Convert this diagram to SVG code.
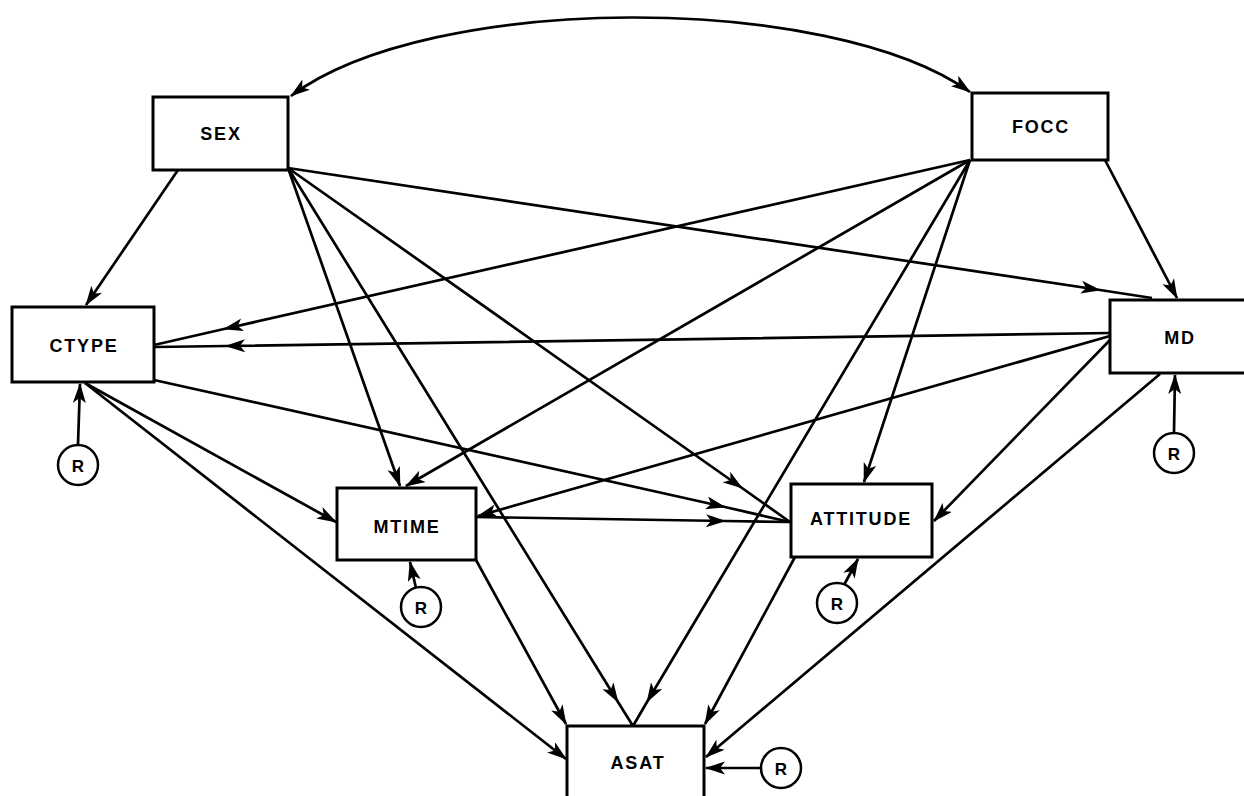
<svg xmlns="http://www.w3.org/2000/svg" width="1244" height="796" viewBox="0 0 1244 796">
  <style>
    .box { fill: #fff; stroke: #000; stroke-width: 3; }
    .lbl { font-family: "Liberation Sans", Arial, sans-serif; font-weight: bold; font-size: 18px; letter-spacing: 1.8px; text-anchor: middle; dominant-baseline: central; fill: #000; }
    .rc { fill: #fff; stroke: #000; stroke-width: 2.5; }
    .rl { font-family: "Liberation Sans", Arial, sans-serif; font-weight: bold; font-size: 17px; text-anchor: middle; dominant-baseline: central; fill: #000; }
    .edge { fill: none; stroke: #000; stroke-width: 2.7; stroke-linejoin: round; }
    .end { marker-end: url(#ah); }
    .mid { marker-mid: url(#ah); }
  </style>
  <defs>
    <marker id="ah" markerUnits="userSpaceOnUse" markerWidth="22" markerHeight="14" refX="19" refY="6.5" orient="auto-start-reverse">
      <path d="M0,0 L20,6.5 L0,13 L5,6.5 z" fill="#000"/>
    </marker>
  </defs>

  <!-- paths between variables -->
  <g id="connectors">
    <!-- SEX <-> FOCC correlation arc -->
    <path class="edge" d="M291 96 C 430 -8, 830 -8, 970 92" marker-start="url(#ah)" marker-end="url(#ah)"/>

    <!-- from SEX -->
    <path class="edge end" d="M178 170 L86 305"/>
    <path class="edge mid" d="M288 168 L1100 290 L1152 298"/>
    <path class="edge end" d="M288 168 L400 486"/>
    <path class="edge mid" d="M288 168 L618 702 L633 726"/>
    <path class="edge mid" d="M288 168 L742 488 L790 522"/>

    <!-- from FOCC -->
    <path class="edge end" d="M1105 160 L1177 298"/>
    <path class="edge mid" d="M970 160 L224 329 L154 345"/>
    <path class="edge end" d="M970 160 L406 486"/>
    <path class="edge end" d="M970 160 L864 482"/>
    <path class="edge mid" d="M970 160 L647 702 L633 726"/>

    <!-- from MD -->
    <path class="edge mid" d="M1110 333 L226 346 L154 347"/>
    <path class="edge end" d="M1110 336 L478 516"/>
    <path class="edge end" d="M1110 340 L934 521"/>
    <path class="edge end" d="M1160 374 L706 757"/>

    <!-- from CTYPE -->
    <path class="edge end" d="M85 383 L336 522"/>
    <path class="edge end" d="M85 383 L566 759"/>
    <path class="edge mid" d="M154 380 L725 507 L790 522"/>

    <!-- from MTIME -->
    <path class="edge mid" d="M476 517 L725 521 L790 522"/>
    <path class="edge end" d="M476 560 L566 724"/>

    <!-- from ATTITUDE -->
    <path class="edge end" d="M795 557 L705 724"/>

    <!-- residuals -->
    <path class="edge end" d="M78 444 L80 384"/>
    <path class="edge end" d="M1174 432 L1175 375"/>
    <path class="edge end" d="M416 588 L410 562"/>
    <path class="edge end" d="M844 585 L858 559"/>
    <path class="edge end" d="M760 768 L706 768"/>
  </g>

  <g id="SEX">
    <rect class="box" x="153" y="97" width="135" height="73"/>
    <text class="lbl" x="221" y="134">SEX</text>
  </g>
  <g id="FOCC">
    <rect class="box" x="972" y="93" width="136" height="67"/>
    <text class="lbl" x="1041" y="127">FOCC</text>
  </g>
  <g id="CTYPE">
    <rect class="box" x="12" y="307" width="142" height="75"/>
    <text class="lbl" x="84" y="346">CTYPE</text>
  </g>
  <g id="MD">
    <rect class="box" x="1110" y="300" width="150" height="73"/>
    <text class="lbl" x="1180" y="338">MD</text>
  </g>
  <g id="MTIME">
    <rect class="box" x="337" y="488" width="139" height="72"/>
    <text class="lbl" x="407" y="527">MTIME</text>
  </g>
  <g id="ATTITUDE">
    <rect class="box" x="791" y="484" width="141" height="73"/>
    <text class="lbl" x="861" y="519">ATTITUDE</text>
  </g>
  <g id="ASAT">
    <rect class="box" x="567" y="726" width="137" height="90"/>
    <text class="lbl" x="638" y="763">ASAT</text>
  </g>

  <g id="R_CTYPE">
    <circle class="rc" cx="78" cy="465" r="20"/>
    <text class="rl" x="78" y="466">R</text>
  </g>
  <g id="R_MD">
    <circle class="rc" cx="1174" cy="453" r="20"/>
    <text class="rl" x="1174" y="454">R</text>
  </g>
  <g id="R_MTIME">
    <circle class="rc" cx="421" cy="607" r="20"/>
    <text class="rl" x="421" y="608">R</text>
  </g>
  <g id="R_ATTITUDE">
    <circle class="rc" cx="837" cy="603" r="20"/>
    <text class="rl" x="837" y="604">R</text>
  </g>
  <g id="R_ASAT">
    <circle class="rc" cx="781" cy="768" r="20"/>
    <text class="rl" x="781" y="769">R</text>
  </g>
</svg>
